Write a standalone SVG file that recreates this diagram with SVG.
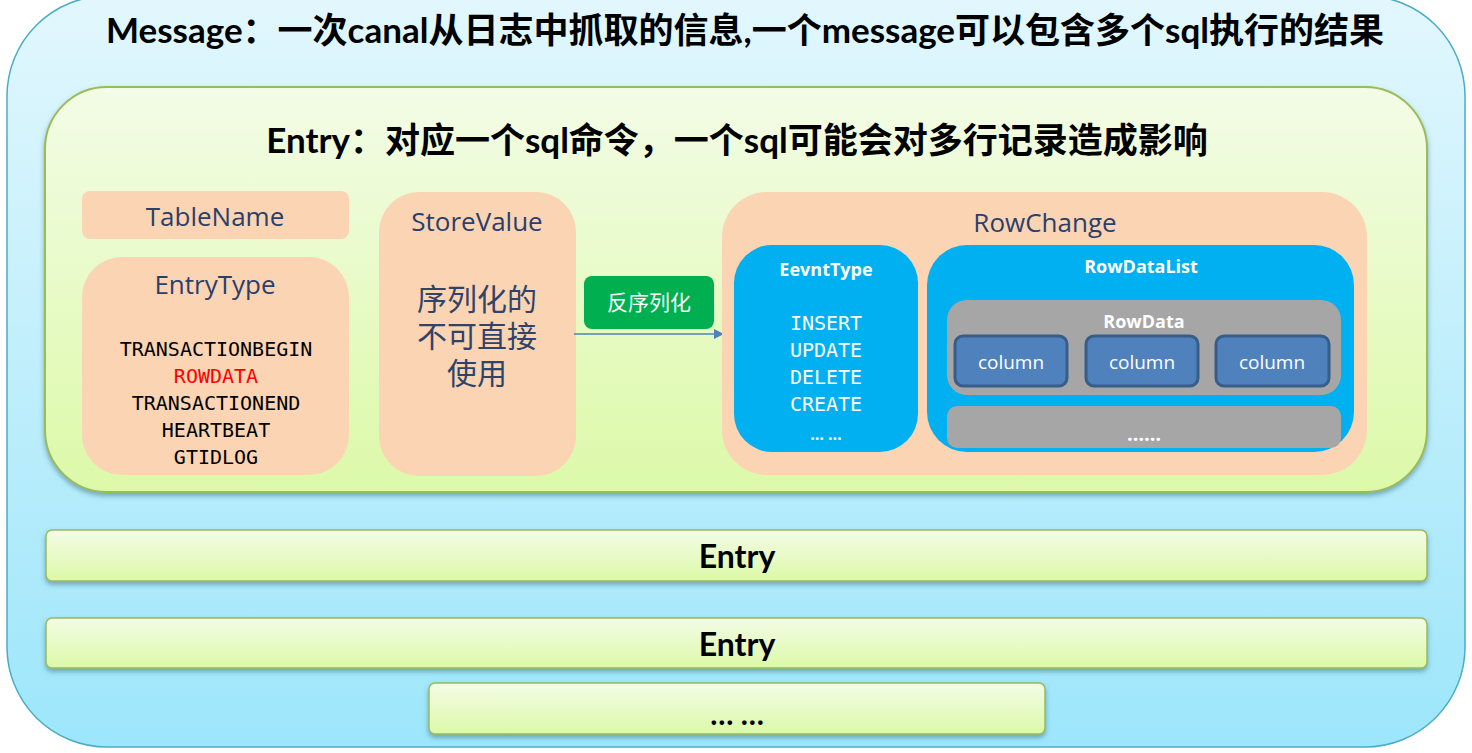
<svg xmlns="http://www.w3.org/2000/svg" width="1472" height="753" viewBox="0 0 1472 753">
<style>
.title{font-family:Lato,"Noto Sans CJK SC",sans-serif;font-weight:bold;fill:#000;text-anchor:middle}
.lbl{font-family:"Open Sans","Noto Sans CJK SC",sans-serif;fill:#2a3f6b;font-size:26px;text-anchor:middle}
.cjk{font-family:"Noto Sans CJK SC",sans-serif;fill:#2f4468;font-size:30px;text-anchor:middle}
.mono{font-family:"DejaVu Sans Mono",monospace;font-size:20px;text-anchor:middle}
.wb{font-family:"Open Sans",sans-serif;font-weight:bold;fill:#fff;text-anchor:middle}
.colt{font-family:"Open Sans",sans-serif;font-size:19px;fill:#fff;text-anchor:middle}
.peach{fill:#fbd4b4}
.blue{fill:#00b0f0}
.gray{fill:#a6a6a6}
.col{fill:#4f81bd;stroke:#385d8a;stroke-width:3}
.bar{fill:url(#gGreen);stroke:#9bbb59;stroke-width:1.5}
</style>
<defs>
<linearGradient id="gBlue" x1="0" y1="0" x2="0" y2="1">
<stop offset="0" stop-color="#e2f7fd"/>
<stop offset="1" stop-color="#9de6fb"/>
</linearGradient>
<linearGradient id="gGreen" x1="0" y1="0" x2="0" y2="1">
<stop offset="0" stop-color="#f3fce6"/>
<stop offset="1" stop-color="#dcf9a8"/>
</linearGradient>
<filter id="sh" x="-5%" y="-10%" width="110%" height="130%">
<feDropShadow dx="0" dy="3" stdDeviation="2.5" flood-color="#3a6f80" flood-opacity="0.55"/>
</filter>
<marker id="arr" markerWidth="10" markerHeight="10" refX="8" refY="5" orient="auto" markerUnits="userSpaceOnUse">
<path d="M0,0 L10,5 L0,10 z" fill="#4f81bd"/>
</marker>
</defs>

<g id="message">
<rect x="7" y="-4" width="1458" height="751" rx="100" fill="url(#gBlue)" stroke="#4bacc6" stroke-width="1.5"/>
<text class="title" x="745" y="43" font-size="35">Message：一次canal从日志中抓取的信息,一个message可以包含多个sql执行的结果</text>
</g>

<g id="entry-main">
<rect x="45" y="87" width="1382" height="405" rx="62" fill="url(#gGreen)" stroke="#9bbb59" stroke-width="2" filter="url(#sh)"/>
<text class="title" x="737" y="153" font-size="35">Entry：对应一个sql命令，一个sql可能会对多行记录造成影响</text>
</g>

<g id="tablename">
<rect class="peach" x="82" y="191" width="267" height="48" rx="8"/>
<text class="lbl" x="215" y="226">TableName</text>
</g>

<g id="entrytype">
<rect class="peach" x="82" y="257" width="267" height="218" rx="40"/>
<text class="lbl" x="215" y="294">EntryType</text>
<text class="mono" x="216" y="356" fill="#000">TRANSACTIONBEGIN</text>
<text class="mono" x="216" y="383" fill="#ff0000">ROWDATA</text>
<text class="mono" x="216" y="410" fill="#000">TRANSACTIONEND</text>
<text class="mono" x="216" y="437" fill="#000">HEARTBEAT</text>
<text class="mono" x="216" y="464" fill="#000">GTIDLOG</text>
</g>

<g id="storevalue">
<rect class="peach" x="379" y="192" width="197" height="284" rx="40"/>
<text class="lbl" x="477" y="231">StoreValue</text>
<text class="cjk" x="477" y="310"><tspan x="477" y="310">序列化的</tspan><tspan x="477" y="347">不可直接</tspan><tspan x="477" y="384">使用</tspan></text>
</g>

<g id="deserialize">
<rect x="584" y="276" width="130" height="53" rx="8" fill="#00b050"/>
<text x="649" y="310" font-size="21" fill="#fff" text-anchor="middle" font-family="'Noto Sans CJK SC',sans-serif">反序列化</text>
</g>

<g id="connectors">
<line x1="574" y1="334" x2="722" y2="334" stroke="#4f81bd" stroke-width="1.5" marker-end="url(#arr)"/>
</g>

<g id="rowchange">
<rect class="peach" x="722" y="192" width="645" height="283" rx="45"/>
<text class="lbl" x="1045" y="232">RowChange</text>
</g>

<g id="eventtype">
<rect class="blue" x="734" y="245" width="184" height="207" rx="38"/>
<text class="wb" x="826" y="276" font-size="18">EevntType</text>
<text class="mono" x="826" y="330" fill="#fff">INSERT</text>
<text class="mono" x="826" y="357" fill="#fff">UPDATE</text>
<text class="mono" x="826" y="384" fill="#fff">DELETE</text>
<text class="mono" x="826" y="411" fill="#fff">CREATE</text>
<text class="wb" x="826" y="440" font-size="16">… …</text>
</g>

<g id="rowdatalist">
<rect class="blue" x="927" y="245" width="427" height="207" rx="40"/>
<text class="wb" x="1141" y="273" font-size="18">RowDataList</text>
</g>

<g id="rowdata">
<rect class="gray" x="947" y="300" width="394" height="95" rx="20"/>
<text class="wb" x="1144" y="328" font-size="18">RowData</text>
</g>

<g id="column1">
<rect class="col" x="955" y="336" width="112" height="50" rx="8"/>
<text class="colt" x="1011" y="369">column</text>
</g>
<g id="column2">
<rect class="col" x="1086" y="336" width="112" height="50" rx="8"/>
<text class="colt" x="1142" y="369">column</text>
</g>
<g id="column3">
<rect class="col" x="1216" y="336" width="113" height="50" rx="8"/>
<text class="colt" x="1272" y="369">column</text>
</g>

<g id="rowdata-more">
<rect class="gray" x="947" y="406" width="394" height="42" rx="10"/>
<text class="wb" x="1144" y="441" font-size="20">……</text>
</g>

<g id="entry2">
<rect class="bar" x="46" y="530" width="1381" height="51" rx="6" filter="url(#sh)"/>
<text class="title" x="737" y="568" font-size="32">Entry</text>
</g>

<g id="entry3">
<rect class="bar" x="46" y="618" width="1381" height="50" rx="6" filter="url(#sh)"/>
<text class="title" x="737" y="656" font-size="32">Entry</text>
</g>

<g id="entry-more">
<rect class="bar" x="429" y="683" width="616" height="51" rx="6" filter="url(#sh)"/>
<text class="title" x="737" y="725" font-size="30">… …</text>
</g>
</svg>
